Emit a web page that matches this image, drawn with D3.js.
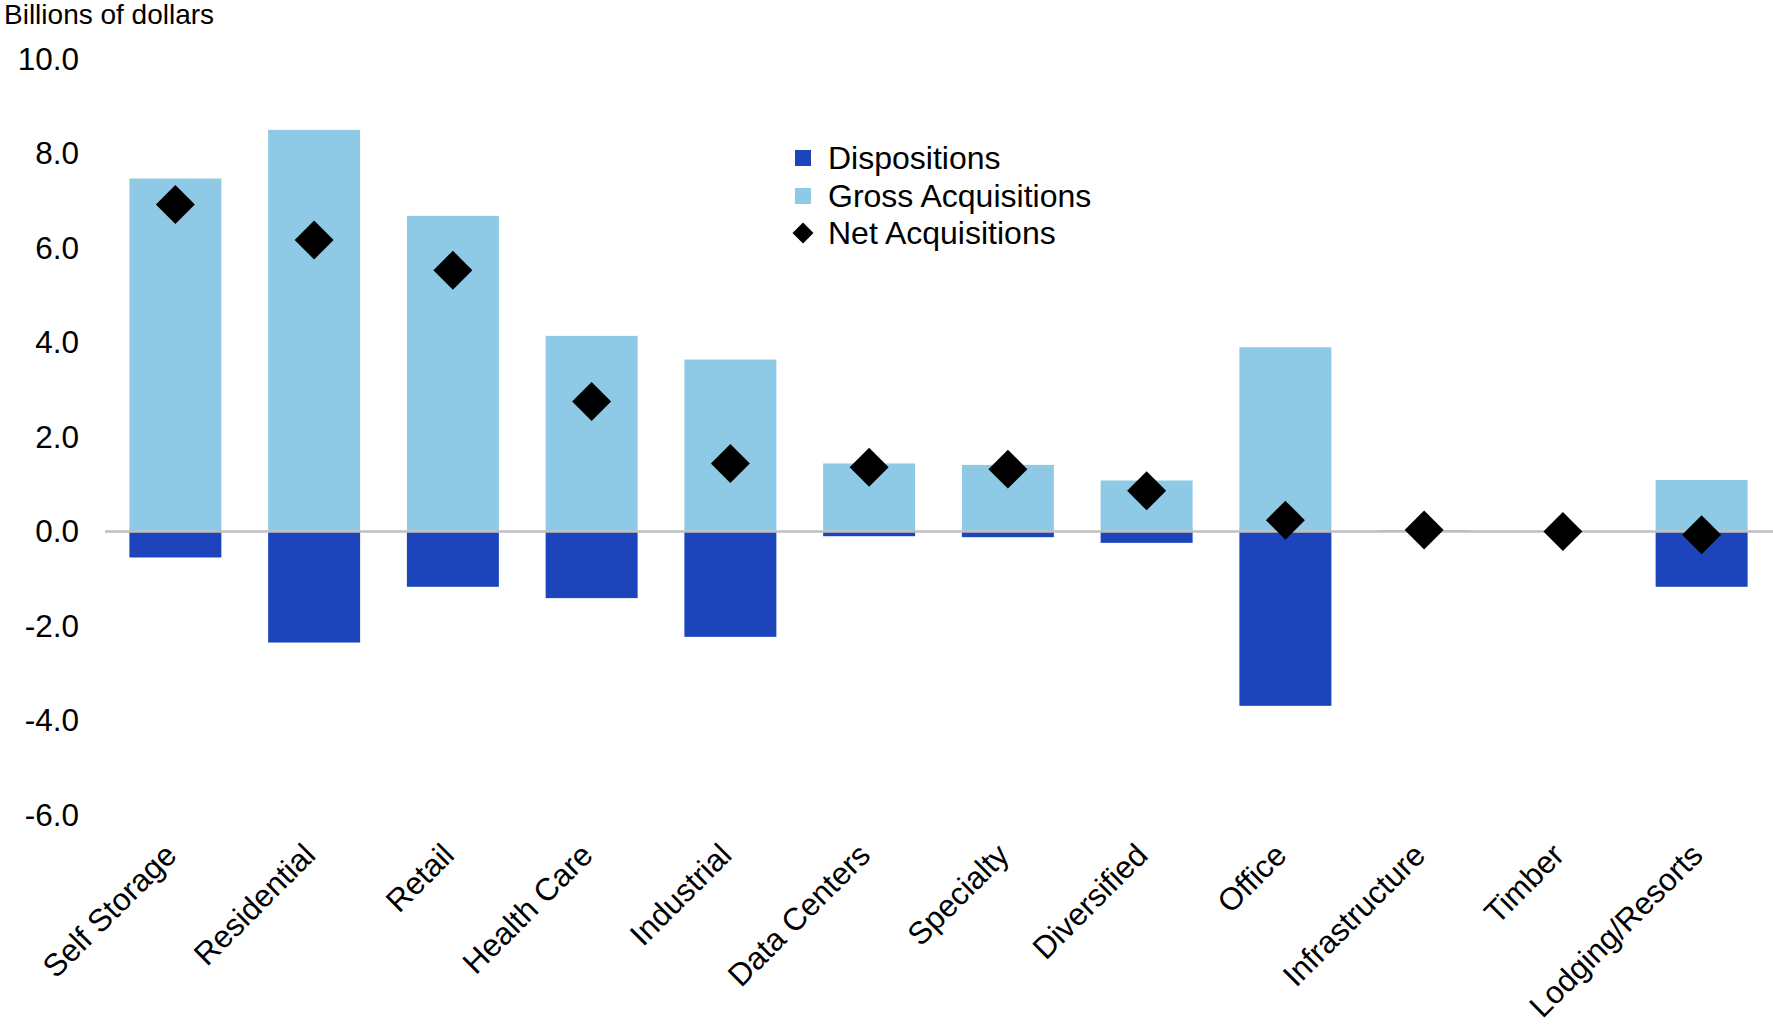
<!DOCTYPE html>
<html>
<head>
<meta charset="utf-8">
<script src="https://cdn.jsdelivr.net/npm/d3@7"></script>
<style>
  html, body { margin: 0; padding: 0; background: #fff; }
  svg text { font-family: "Liberation Sans", Arial, sans-serif; fill: #000; }
</style>
</head>
<body>
<svg id="chart" width="1773" height="1028"></svg>
<script>
const categories = ["Self Storage", "Residential", "Retail", "Health Care", "Industrial", "Data Centers",
  "Specialty", "Diversified", "Office", "Infrastructure", "Timber", "Lodging/Resorts"];
const grossAcquisitions = [7.47, 8.50, 6.68, 4.14, 3.64, 1.44, 1.41, 1.08, 3.90, 0.03, 0.0, 1.09];
const dispositions = [-0.55, -2.35, -1.17, -1.41, -2.23, -0.10, -0.12, -0.24, -3.69, 0.0, 0.0, -1.17];
const netAcquisitions = [6.92, 6.17, 5.53, 2.75, 1.44, 1.36, 1.32, 0.86, 0.24, 0.03, 0.0, -0.07];
const yTicks = [-6, -4, -2, 0, 2, 4, 6, 8, 10];
const seriesNames = ["Dispositions", "Gross Acquisitions", "Net Acquisitions"];
const colors = { disp: "#1c45bb", gross: "#8ecae6" };

const svg = d3.select("#chart");

const x = d3.scaleBand().domain(categories).range([106, 1771]).paddingInner(0.337).paddingOuter(0.1685);
const y = d3.scaleLinear().domain([-6, 10]).range([815, 59]);

// Title
svg.append("text").attr("x", 4).attr("y", 24).style("font-size", "28px").text("Billions of dollars");

// Y axis
const fmt = d3.formatLocale({ decimal: ".", thousands: ",", grouping: [3], currency: ["$", ""], minus: "-" }).format(".1f");
const yAxis = d3.axisLeft(y).tickValues(yTicks).tickFormat(fmt).tickSize(0).tickPadding(0);
const yg = svg.append("g").attr("transform", "translate(79,0)").call(yAxis);
yg.select(".domain").remove();
yg.selectAll("text").style("font-size", "31.5px").style("font-family", '"Liberation Sans", Arial, sans-serif').attr("fill", "#000");

const idx = d3.range(categories.length);

// Gross bars
svg.append("g").selectAll("rect").data(idx).join("rect")
  .attr("x", i => x(categories[i]))
  .attr("width", x.bandwidth())
  .attr("y", i => y(Math.max(0, grossAcquisitions[i])))
  .attr("height", i => Math.abs(y(grossAcquisitions[i]) - y(0)))
  .attr("fill", colors.gross);

// Disposition bars
svg.append("g").selectAll("rect").data(idx).join("rect")
  .attr("x", i => x(categories[i]))
  .attr("width", x.bandwidth())
  .attr("y", y(0))
  .attr("height", i => Math.abs(y(dispositions[i]) - y(0)))
  .attr("fill", colors.disp);

// Zero line
svg.append("line").attr("x1", 105).attr("x2", 1773).attr("y1", y(0)).attr("y2", y(0))
  .attr("stroke", "#bfbfbf").attr("stroke-width", 2.5);

// Net diamonds
const diamond = d3.symbol().type(d3.symbolSquare).size(760);
svg.append("g").selectAll("path").data(idx).join("path")
  .attr("d", diamond)
  .attr("transform", i => `translate(${x(categories[i]) + x.bandwidth() / 2},${y(netAcquisitions[i])}) rotate(45)`)
  .attr("fill", "#000");

// X labels
const xg = svg.append("g");
xg.selectAll("text").data(categories).join("text")
  .attr("transform", d => `translate(${x(d) + x.bandwidth() / 2 + 3},${857}) rotate(-45)`)
  .attr("text-anchor", "end")
  .style("font-size", "31.5px")
  .text(d => d);

// Legend
const leg = svg.append("g");
const legRows = [158, 196, 233];
leg.append("rect").attr("x", 795).attr("y", legRows[0] - 8).attr("width", 16).attr("height", 16).attr("fill", colors.disp);
leg.append("rect").attr("x", 795).attr("y", legRows[1] - 8).attr("width", 16).attr("height", 16).attr("fill", colors.gross);
leg.append("path").attr("d", d3.symbol().type(d3.symbolSquare).size(220))
  .attr("transform", `translate(803,${legRows[2]}) rotate(45)`).attr("fill", "#000");
leg.selectAll("text.lt").data(seriesNames).join("text").attr("class", "lt")
  .attr("x", 828).attr("y", (d, i) => legRows[i] + 11)
  .style("font-size", "32px")
  .text(d => d);
</script>
</body>
</html>
